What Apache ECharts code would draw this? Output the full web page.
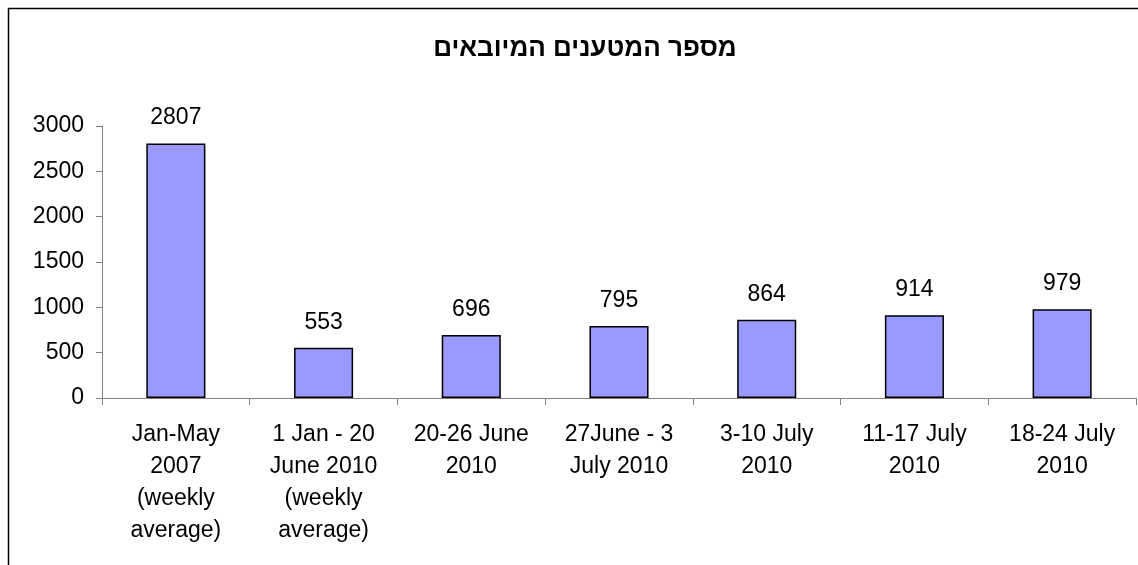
<!DOCTYPE html>
<html>
<head>
<meta charset="utf-8">
<script src="https://cdn.jsdelivr.net/npm/echarts@6/dist/echarts.min.js"></script>
<style>
  html, body { margin: 0; padding: 0; background: #fff; }
  #chart { width: 1138px; height: 565px; }
</style>
</head>
<body>
<div id="chart"></div>
<script>
let titleText = "מספר המטענים המיובאים";

let categories = [
  "Jan-May\n2007\n(weekly\naverage)",
  "1 Jan - 20\nJune 2010\n(weekly\naverage)",
  "20-26 June\n2010",
  "27June - 3\nJuly 2010",
  "3-10 July\n2010",
  "11-17 July\n2010",
  "18-24 July\n2010"
];

let values = [2807, 553, 696, 795, 864, 914, 979];

let fontFamily = "'Liberation Sans', Arial, 'DejaVu Sans', sans-serif";

let chart = echarts.init(document.getElementById("chart"));

let option = {
  backgroundColor: "#fff",
  animation: false,
  textStyle: { fontFamily: fontFamily, color: "#000" },
  title: {
    text: titleText,
    left: 580,
    top: 31,
    textAlign: "center",
    textStyle: {
      fontFamily: fontFamily,
      fontSize: 26,
      fontWeight: "bold",
      color: "#000"
    }
  },
  graphic: [
    {
      type: "rect",
      shape: { x: 8.5, y: 8.5, width: 1140, height: 570 },
      style: { fill: null, stroke: "#000", lineWidth: 1.5 },
      silent: true
    }
  ],
  grid: {
    left: 102,
    right: 2,
    top: 126,
    bottom: 167,
    containLabel: false
  },
  xAxis: {
    type: "category",
    data: categories,
    boundaryGap: true,
    axisLine: { lineStyle: { color: "#808080", width: 1 } },
    axisTick: {
      show: true,
      alignWithLabel: false,
      length: 7,
      lineStyle: { color: "#808080" }
    },
    axisLabel: {
      interval: 0,
      margin: 21,
      fontSize: 23,
      lineHeight: 32,
      color: "#000",
      fontFamily: fontFamily
    },
    splitLine: { show: false }
  },
  yAxis: {
    type: "value",
    min: 0,
    max: 3000,
    interval: 500,
    axisLine: { show: true, lineStyle: { color: "#808080", width: 1 } },
    axisTick: { show: true, length: 6, lineStyle: { color: "#808080" } },
    axisLabel: {
      margin: 18,
      fontSize: 23,
      color: "#000",
      fontFamily: fontFamily,
      formatter: function (v) { return String(v); }
    },
    splitLine: { show: false }
  },
  series: [
    {
      type: "bar",
      data: values,
      barWidth: "40%",
      itemStyle: {
        color: "#9999FF",
        borderColor: "#000",
        borderWidth: 1.5
      },
      label: {
        show: true,
        position: "top",
        distance: 14,
        fontSize: 23,
        color: "#000",
        fontFamily: fontFamily
      }
    }
  ]
};

chart.setOption(option);
</script>
</body>
</html>
